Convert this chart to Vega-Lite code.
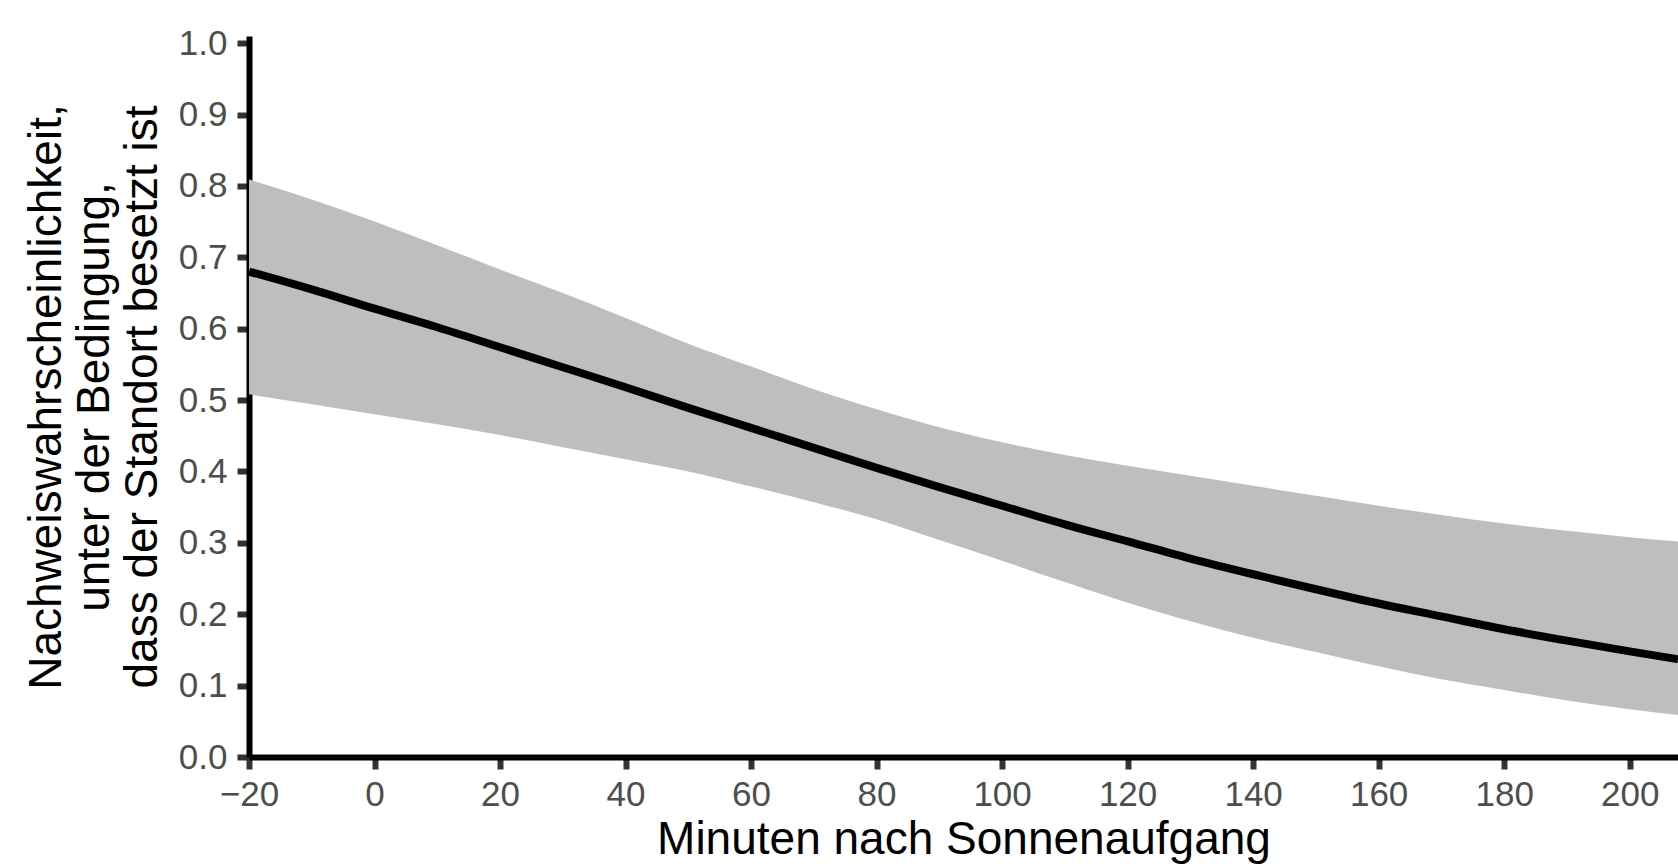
{
  "$schema": "https://vega.github.io/schema/vega-lite/v6.json",
  "autosize": {"type": "none"},
  "padding": {"left": 249, "top": 36, "right": 0, "bottom": 107},
  "width": 1429,
  "height": 721,
  "background": "white",
  "config": {
    "view": {"stroke": null},
    "font": "Liberation Sans",
    "axis": {
      "grid": false,
      "labelFlush": false,
      "labelOverlap": false,
      "domainColor": "#000000",
      "domainWidth": 6,
      "tickColor": "#333333",
      "tickWidth": 6,
      "tickSize": 12,
      "labelFont": "Liberation Sans",
      "labelFontSize": 35,
      "labelColor": "#4D4D4D",
      "titleFont": "Liberation Sans",
      "titleFontSize": 46,
      "titleFontWeight": "normal",
      "titleColor": "#000000"
    }
  },
  "data": {
    "values": [
      {"min": -20, "fit": 0.680, "lo": 0.508, "hi": 0.809},
      {"min": -10, "fit": 0.655, "lo": 0.494, "hi": 0.781},
      {"min": 0, "fit": 0.628, "lo": 0.480, "hi": 0.750},
      {"min": 10, "fit": 0.602, "lo": 0.466, "hi": 0.717},
      {"min": 20, "fit": 0.574, "lo": 0.451, "hi": 0.683},
      {"min": 30, "fit": 0.546, "lo": 0.434, "hi": 0.650},
      {"min": 40, "fit": 0.518, "lo": 0.417, "hi": 0.615},
      {"min": 50, "fit": 0.489, "lo": 0.400, "hi": 0.579},
      {"min": 60, "fit": 0.461, "lo": 0.379, "hi": 0.547},
      {"min": 70, "fit": 0.433, "lo": 0.357, "hi": 0.515},
      {"min": 80, "fit": 0.405, "lo": 0.333, "hi": 0.487},
      {"min": 90, "fit": 0.378, "lo": 0.304, "hi": 0.462},
      {"min": 100, "fit": 0.352, "lo": 0.275, "hi": 0.441},
      {"min": 110, "fit": 0.326, "lo": 0.245, "hi": 0.423},
      {"min": 120, "fit": 0.302, "lo": 0.216, "hi": 0.408},
      {"min": 130, "fit": 0.278, "lo": 0.190, "hi": 0.394},
      {"min": 140, "fit": 0.256, "lo": 0.167, "hi": 0.380},
      {"min": 150, "fit": 0.235, "lo": 0.147, "hi": 0.366},
      {"min": 160, "fit": 0.215, "lo": 0.127, "hi": 0.352},
      {"min": 170, "fit": 0.197, "lo": 0.109, "hi": 0.339},
      {"min": 180, "fit": 0.179, "lo": 0.094, "hi": 0.327},
      {"min": 190, "fit": 0.163, "lo": 0.079, "hi": 0.317},
      {"min": 200, "fit": 0.148, "lo": 0.067, "hi": 0.308},
      {"min": 207.7, "fit": 0.137, "lo": 0.059, "hi": 0.302}
    ]
  },
  "encoding": {
    "x": {
      "field": "min",
      "type": "quantitative",
      "scale": {"domain": [-20, 207.7], "nice": false, "zero": false},
      "axis": {
        "values": [-20, 0, 20, 40, 60, 80, 100, 120, 140, 160, 180, 200],
        "labelPadding": 8,
        "titlePadding": 5,
        "title": "Minuten nach Sonnenaufgang"
      }
    }
  },
  "layer": [
    {
      "mark": {"type": "area", "color": "#BEBEBE", "opacity": 1, "interpolate": "monotone"},
      "encoding": {
        "y": {
          "field": "lo",
          "type": "quantitative",
          "scale": {"domain": [0, 1.01], "nice": false, "zero": false},
          "axis": {
            "values": [0, 0.1, 0.2, 0.3, 0.4, 0.5, 0.6, 0.7, 0.8, 0.9, 1.0],
            "format": ".1f",
            "labelPadding": 10,
            "titlePadding": 12,
            "titleLineHeight": 48,
            "title": ["Nachweiswahrscheinlichkeit,", "unter der Bedingung,", "dass der Standort besetzt ist"]
          }
        },
        "y2": {"field": "hi"}
      }
    },
    {
      "mark": {"type": "line", "color": "#000000", "strokeWidth": 8, "strokeCap": "butt", "interpolate": "monotone"},
      "encoding": {
        "y": {"field": "fit", "type": "quantitative"}
      }
    }
  ]
}
